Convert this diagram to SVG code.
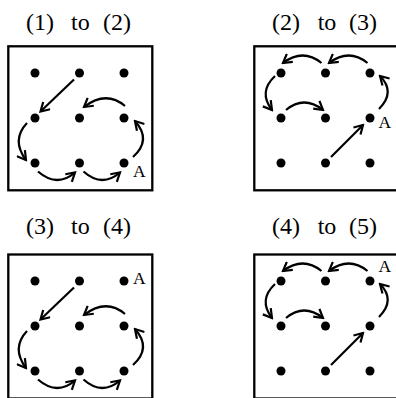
<svg xmlns="http://www.w3.org/2000/svg" width="396" height="398" viewBox="0 0 396 398">
<style>
.box{fill:none;stroke:#000;stroke-width:2.3}
.dot{fill:#000}
.ar{fill:none;stroke:#000;stroke-width:2.2;marker-end:url(#ah)}
.t{font-family:"Liberation Serif","Times New Roman",serif;font-size:24px;fill:#000}
.a{font-family:"Liberation Serif","Times New Roman",serif;font-size:17.5px;fill:#000}
</style>
<defs>
<marker id="ah" viewBox="0 0 12 12" refX="10" refY="6" markerWidth="12" markerHeight="12" markerUnits="userSpaceOnUse" orient="auto">
<path d="M1.5,1 L10,6 L1.5,11" fill="none" stroke="#000" stroke-width="2.2"/>
</marker>
<g id="grid">
<circle class="dot" cx="0" cy="0" r="4.5"/><circle class="dot" cx="44.5" cy="0" r="4.5"/><circle class="dot" cx="89" cy="0" r="4.5"/>
<circle class="dot" cx="0" cy="45" r="4.5"/><circle class="dot" cx="44.5" cy="45" r="4.5"/><circle class="dot" cx="89" cy="45" r="4.5"/>
<circle class="dot" cx="0" cy="90" r="4.5"/><circle class="dot" cx="44.5" cy="90" r="4.5"/><circle class="dot" cx="89" cy="90" r="4.5"/>
</g>
<g id="movesA">
<path class="ar" d="M74,79.5 L40.5,111.5"/>
<path class="ar" d="M125,106 Q106,90 84,107"/>
<path class="ar" d="M27,123 Q11,140 26,160"/>
<path class="ar" d="M38,171.5 Q57,188 75,172.5"/>
<path class="ar" d="M83.5,171.5 Q102,188 120,172.5"/>
<path class="ar" d="M133,157 Q152,140 135,121"/>
</g>
<g id="movesB">
<path class="ar" d="M367.5,63 Q349,48 329,63"/>
<path class="ar" d="M321.5,63 Q303,48 283,63"/>
<path class="ar" d="M275,76 Q258,92 272,110"/>
<path class="ar" d="M286,110 Q304,95 323,110"/>
<path class="ar" d="M379,109 Q396,92 380,76"/>
<path class="ar" d="M331,157 L363,125"/>
</g>
</defs>

<g id="panel1">
<text class="t" y="30"><tspan x="26">(1)</tspan> <tspan x="71">to</tspan> <tspan x="103">(2)</tspan></text>
<rect class="box" x="8.3" y="46.3" width="144" height="144"/>
<use href="#grid" x="35" y="73"/>
<text class="a" x="133" y="177">A</text>
</g>
<g id="panel2">
<text class="t" y="30"><tspan x="272">(2)</tspan> <tspan x="317.7">to</tspan> <tspan x="349">(3)</tspan></text>
<rect class="box" x="254.3" y="46.3" width="144" height="144"/>
<use href="#grid" x="281" y="73"/>
<text class="a" x="378.5" y="127.5">A</text>
</g>
<g id="panel3">
<text class="t" y="234"><tspan x="26">(3)</tspan> <tspan x="71">to</tspan> <tspan x="103">(4)</tspan></text>
<rect class="box" x="8.3" y="254.5" width="144" height="144"/>
<use href="#grid" x="35" y="281"/>
<text class="a" x="133" y="284">A</text>
</g>
<g id="panel4">
<text class="t" y="234"><tspan x="272">(4)</tspan> <tspan x="317.7">to</tspan> <tspan x="349">(5)</tspan></text>
<rect class="box" x="254.3" y="254.5" width="144" height="144"/>
<use href="#grid" x="281" y="281"/>
<text class="a" x="378.5" y="272">A</text>
</g>

<g id="connectors">
<use href="#movesA"/>
<use href="#movesB"/>
<use href="#movesA" y="208"/>
<use href="#movesB" y="208"/>
</g>
</svg>
